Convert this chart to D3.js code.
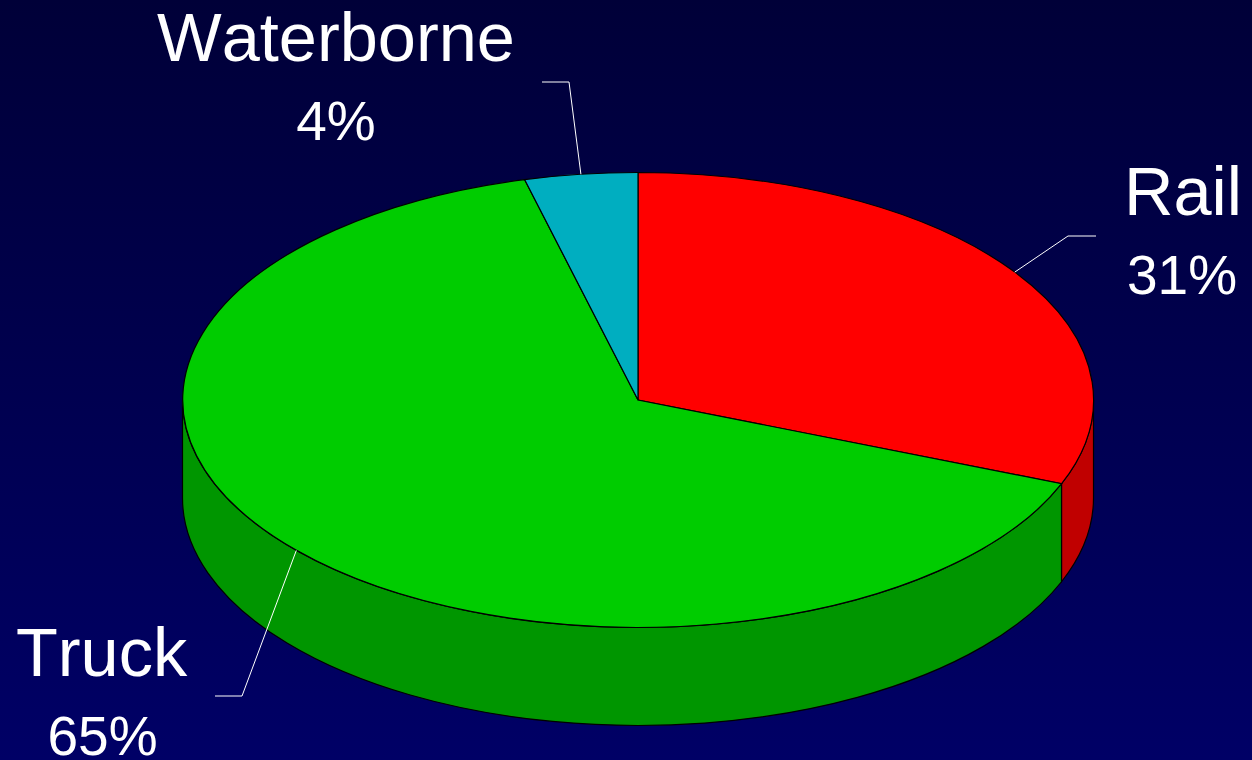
<!DOCTYPE html>
<html>
<head>
<meta charset="utf-8">
<script src="https://cdn.jsdelivr.net/npm/d3@7"></script>
<style>
html, body {margin: 0; padding: 0; background: #000050; overflow: hidden;}
svg {display: block;}
text {font-family: "Liberation Sans", Arial, sans-serif; fill: #fff; font-kerning: none;}
</style>
</head>
<body>
<div id="chart"></div>
<script>
//Freight share pie, tilted with a side wall

var categories = ["Rail", "Truck", "Waterborne"];
var shares = [31, 65, 4];
var topColors = ["#ff0000", "#00cc00", "#00aec0"];
var sideColors = ["#c00000", "#009600", "#007f8c"];

var width = 1252, height = 760;
var cx = 638, cy = 400, rx = 455.5, ry = 227.5, depth = 98;

// elbow and label spots for each slice, same order as categories
var elbows = [[1068, 236, 1096], [242, 696, 215], [569, 82, 542]];
var labelSpots = [[1183, 214.5, 294, 1182], [101.5, 675.5, 755, 102.5], [336, 61, 140, 336]];

var svg = d3.select("#chart").append("svg")
	.attr("width", width)
	.attr("height", height);

var grad = svg.append("defs").append("linearGradient")
	.attr("id", "bg")
	.attr("x1", 0).attr("y1", 0)
	.attr("x2", 0).attr("y2", 1);
grad.append("stop").attr("offset", "0%").attr("stop-color", "#000038");
grad.append("stop").attr("offset", "100%").attr("stop-color", "#000066");

svg.append("rect")
	.attr("width", width)
	.attr("height", height)
	.attr("fill", "url(#bg)");

var pie = d3.pie().sort(null).value(function(d){return d.share});
var rows = categories.map(function(c, i){return {name: c, share: shares[i], i: i}});
var slices = pie(rows);

function px(a) {return cx + rx*Math.sin(a);}
function py(a) {return cy - ry*Math.cos(a);}

// wall of one slice, only the part that faces the viewer
function wallPath(a0, a1) {
	return "M" + px(a0) + "," + py(a0)
		+ "A" + rx + "," + ry + " 0 0 1 " + px(a1) + "," + py(a1)
		+ "L" + px(a1) + "," + (py(a1)+depth)
		+ "A" + rx + "," + ry + " 0 0 0 " + px(a0) + "," + (py(a0)+depth)
		+ "Z";
}

var front0 = Math.PI/2, front1 = 3*Math.PI/2;
var walls = slices.filter(function(d){return d.endAngle > front0 && d.startAngle < front1});

svg.selectAll("path.wall").data(walls)
	.enter().append("path")
	.attr("class", "wall")
	.attr("d", function(d){
		return wallPath(Math.max(d.startAngle, front0), Math.min(d.endAngle, front1));
	})
	.attr("fill", function(d){return sideColors[d.data.i]})
	.attr("stroke", "#000")
	.attr("stroke-width", 1.2);

// top face: unit arc stretched to the ellipse
var arc = d3.arc().innerRadius(0).outerRadius(1);
svg.append("g")
	.attr("transform", "translate(" + cx + "," + cy + ") scale(" + rx + "," + ry + ")")
	.selectAll("path").data(slices)
	.enter().append("path")
	.attr("d", arc)
	.attr("fill", function(d){return topColors[d.data.i]})
	.attr("stroke", "#000")
	.attr("stroke-width", 1.2)
	.attr("vector-effect", "non-scaling-stroke");

// leaders start on the rim at the middle of the slice
svg.selectAll("polyline").data(slices)
	.enter().append("polyline")
	.attr("points", function(d){
		var mid = (d.startAngle + d.endAngle)/2;
		var e = elbows[d.data.i];
		return [[px(mid), py(mid)], [e[0], e[1]], [e[2], e[1]]].join(" ");
	})
	.attr("fill", "none")
	.attr("stroke", "#fff")
	.attr("stroke-width", 1);

svg.selectAll("text.name").data(rows)
	.enter().append("text")
	.attr("class", "name")
	.attr("x", function(d){return labelSpots[d.i][0]})
	.attr("y", function(d){return labelSpots[d.i][1]})
	.attr("text-anchor", "middle")
	.attr("font-size", 68.5)
	.text(function(d){return d.name});

svg.selectAll("text.pct").data(rows)
	.enter().append("text")
	.attr("class", "pct")
	.attr("x", function(d){return labelSpots[d.i][3]})
	.attr("y", function(d){return labelSpots[d.i][2]})
	.attr("text-anchor", "middle")
	.attr("font-size", 55)
	.text(function(d){return d.share + "%"});
</script>
</body>
</html>
